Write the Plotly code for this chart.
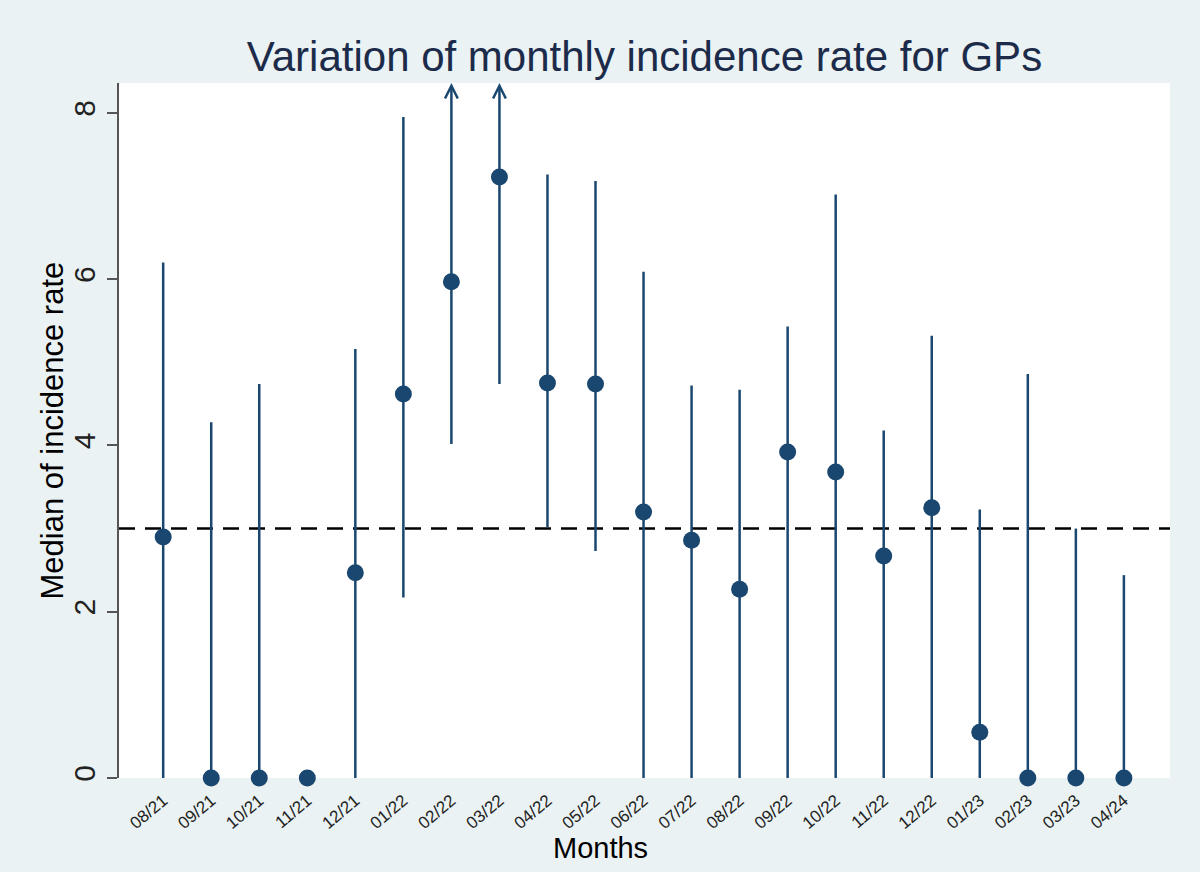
import plotly.graph_objects as go

# values
months = ["08/21", "09/21", "10/21", "11/21", "12/21", "01/22", "02/22", "03/22",
          "04/22", "05/22", "06/22", "07/22", "08/22", "09/22", "10/22", "11/22",
          "12/22", "01/23", "02/23", "03/23", "04/24"]
median_rate = [2.90, 0.0, 0.0, 0.0, 2.47, 4.62, 5.97, 7.23, 4.75, 4.74, 3.20,
               2.86, 2.27, 3.92, 3.68, 2.67, 3.25, 0.55, 0.0, 0.0, 0.0]
ci_low = [0.0, 0.0, 0.0, 0.0, 0.0, 2.17, 4.00, 4.72, 3.02, 2.73, 0.0,
          0.0, 0.0, 0.0, 0.0, 0.0, 0.0, 0.0, 0.0, 0.0, 0.0]
# None = upper bound runs off the top of the chart (drawn as an arrow)
ci_high = [6.20, 4.28, 4.74, 0.0, 5.16, 7.95, None, None, 7.26, 7.18, 6.09,
           4.72, 4.67, 5.43, 7.02, 4.18, 5.32, 3.23, 4.86, 3.00, 2.44]
reference_level = 3
y_ticks = [0, 2, 4, 6, 8]

Y_MAX = 8.36
NAVY = "#1a476f"
FONT = "Liberation Sans, Arial, sans-serif"

xs = list(range(len(months)))

# spikes for the intervals
spike_x, spike_y = [], []
for i, (lo, hi) in enumerate(zip(ci_low, ci_high)):
    if hi is None or hi <= lo:
        continue
    spike_x += [i, i, None]
    spike_y += [lo, hi, None]

fig = go.Figure()
fig.add_trace(go.Scatter(
    x=spike_x, y=spike_y, mode="lines",
    line=dict(color=NAVY, width=2.5),
    cliponaxis=False, hoverinfo="skip", showlegend=False))
fig.add_trace(go.Scatter(
    x=xs, y=median_rate, mode="markers",
    marker=dict(color=NAVY, size=17),
    cliponaxis=False, showlegend=False))

# intervals whose upper end is off the chart
for i, (lo, hi) in enumerate(zip(ci_low, ci_high)):
    if hi is None:
        fig.add_annotation(
            x=i, y=Y_MAX, ax=i, ay=lo,
            xref="x", yref="y", axref="x", ayref="y",
            text="", showarrow=True, arrowhead=5, arrowsize=1,
            arrowwidth=2.5, arrowcolor=NAVY, standoff=0)

fig.add_shape(type="line", xref="paper", x0=0, x1=1, yref="y",
              y0=reference_level, y1=reference_level, layer="below",
              line=dict(color="black", width=2.5, dash="16px,10px"))

# axis titles placed as annotations
fig.add_annotation(text="Months", xref="paper", yref="paper",
                   x=0.4586, y=-0.1007, xanchor="center", yanchor="middle",
                   showarrow=False, font=dict(family=FONT, size=29, color="black"))
fig.add_annotation(text="Median of incidence rate", xref="paper", yref="paper",
                   x=-0.0628, y=0.5, xanchor="center", yanchor="middle",
                   textangle=-90, showarrow=False,
                   font=dict(family=FONT, size=31, color="black"))

fig.update_layout(
    width=1200, height=872,
    margin=dict(l=119, r=30, t=83, b=94),
    paper_bgcolor="#eaf2f3",
    plot_bgcolor="white",
    font=dict(family=FONT),
    title=dict(text="Variation of monthly incidence rate for GPs",
               x=0.5, xref="paper", xanchor="center",
               y=1 - 56 / 872, yanchor="middle",
               font=dict(family=FONT, size=42, color="#1c2b4a")),
    xaxis=dict(range=[-0.92, 20.96], tickvals=xs, ticktext=months,
               tickangle=-40, showgrid=False, zeroline=False, showline=False,
               ticks="outside", ticklen=5, tickcolor="rgba(0,0,0,0)",
               tickfont=dict(family=FONT, size=17, color="#222")),
    yaxis=dict(range=[0, Y_MAX], tickvals=y_ticks, tickangle=-90,
               showgrid=False, zeroline=False, showline=True,
               linecolor="#555", linewidth=2,
               ticks="outside", ticklen=10, tickwidth=2, tickcolor="#555",
               tickfont=dict(family=FONT, size=30, color="#222")),
)

# drop the page's default body margin so the figure sits at the window corner
fig.write_html("out.html", config={"displayModeBar": False},
               post_script="document.body.style.margin='0';")
